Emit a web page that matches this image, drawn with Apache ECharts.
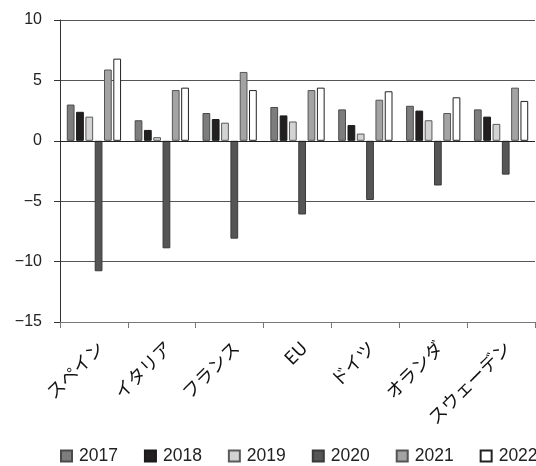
<!DOCTYPE html>
<html>
<head>
<meta charset="utf-8">
<script src="https://cdn.jsdelivr.net/npm/echarts@6/dist/echarts.min.js"></script>
<style>
  html, body { margin: 0; padding: 0; background: #fff; }
  #chart { width: 536px; height: 466px; }
</style>
</head>
<body>
<div id="chart"></div>
<script>
// Real GDP growth rate (%) by country, 2017–2022
const categories = ['スペイン', 'イタリア', 'フランス', 'EU', 'ドイツ', 'オランダ', 'スウェーデン'];
const years = ['2017', '2018', '2019', '2020', '2021', '2022'];
const v2017 = [3.0, 1.7, 2.3, 2.8, 2.6, 2.9, 2.6];
const v2018 = [2.4, 0.9, 1.8, 2.1, 1.3, 2.5, 2.0];
const v2019 = [2.0, 0.3, 1.5, 1.6, 0.6, 1.7, 1.4];
const v2020 = [-10.8, -8.9, -8.1, -6.1, -4.9, -3.7, -2.8];
const v2021 = [5.9, 4.2, 5.7, 4.2, 3.4, 2.3, 4.4];
const v2022 = [6.8, 4.4, 4.2, 4.4, 4.1, 3.6, 3.3];
const yTicks = [-15, -10, -5, 0, 5, 10];

const values = [v2017, v2018, v2019, v2020, v2021, v2022];
const fills = ['#7d7d7d', '#231f20', '#d3d3d3', '#555555', '#a3a3a3', '#ffffff'];
const borders = ['#4a4a4a', '#1a1a1a', '#5a5a5a', '#3a3a3a', '#555555', '#222222'];

const latin = 'Liberation Sans, Arial, sans-serif';
const cjk = '"Noto Sans CJK JP", sans-serif';

const chart = echarts.init(document.getElementById('chart'), null, { renderer: 'canvas' });

const series = years.map((y, i) => ({
  name: y,
  type: 'bar',
  data: values[i],
  barGap: '20%',
  barCategoryGap: '20%',
  itemStyle: { color: fills[i], borderColor: borders[i], borderWidth: 1 },
  emphasis: { disabled: true }
}));

// darker line along zero
series[0].markLine = {
  silent: true,
  symbol: 'none',
  label: { show: false },
  lineStyle: { color: '#222', width: 1.2, type: 'solid' },
  data: [{ yAxis: 0 }]
};

chart.setOption({
  animation: false,
  grid: { left: 60, right: 1, top: 20, bottom: 144, containLabel: false },
  legend: {
    bottom: 1,
    left: 60,
    width: 600,
    padding: 0,
    icon: 'rect',
    itemWidth: 11,
    itemHeight: 11,
    itemGap: 26,
    textStyle: { fontFamily: latin, fontSize: 17.5, color: '#222', padding: [0, 0, 0, 2] },
    data: years
  },
  xAxis: {
    type: 'category',
    data: categories,
    axisLine: { onZero: false, lineStyle: { color: '#777', width: 1 } },
    axisTick: { show: true, length: 6, lineStyle: { color: '#777' } },
    axisLabel: {
      rotate: 45,
      margin: 16,
      interval: 0,
      verticalAlign: 'top',
      fontFamily: cjk,
      fontSize: 18,
      color: '#111'
    }
  },
  yAxis: {
    type: 'value',
    min: yTicks[0],
    max: yTicks[yTicks.length - 1],
    interval: 5,
    axisLine: { show: true, lineStyle: { color: '#333', width: 1 } },
    axisTick: { show: true, length: 6, inside: false, lineStyle: { color: '#333' } },
    splitLine: { show: true, lineStyle: { color: '#555', width: 1 } },
    axisLabel: {
      fontFamily: latin,
      fontSize: 16,
      color: '#222',
      margin: 18,
      formatter: v => (v < 0 ? '\u2212' + Math.abs(v) : String(v))
    }
  },
  series: series
});
</script>
</body>
</html>
